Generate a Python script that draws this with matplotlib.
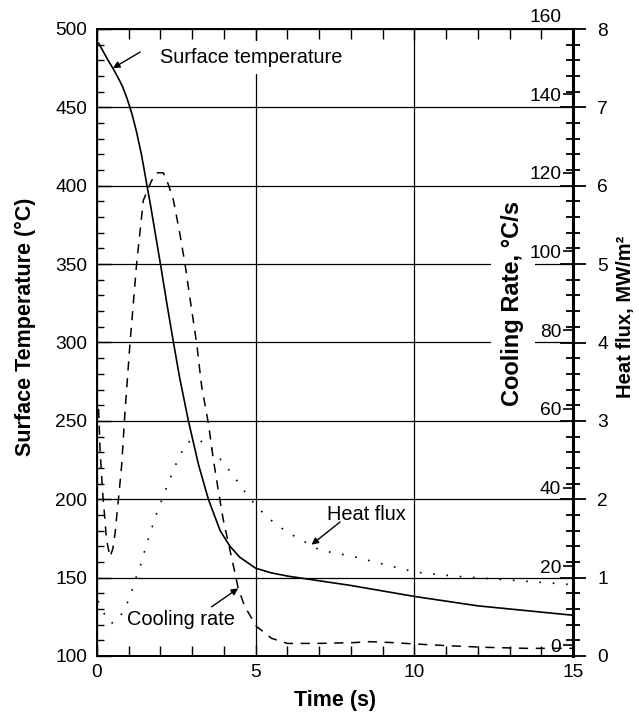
import numpy as np
import matplotlib
matplotlib.use("Agg")
import matplotlib.pyplot as plt
from matplotlib.ticker import MultipleLocator

plt.rcParams['font.family'] = ['Liberation Sans', 'DejaVu Sans']

# surface temperature, degC
t_temp = [0.05, 0.2, 0.35, 0.5, 0.65, 0.8, 0.95, 1.1, 1.25, 1.4, 1.55, 1.7,
          1.85, 2.0, 2.2, 2.41, 2.6, 2.88, 3.2, 3.51, 3.88, 4.19, 4.5, 5.0,
          5.5, 6.0, 7.0, 8.0, 9.0, 10.0, 11.0, 12.0, 13.0, 14.0, 15.0]
temp = [491, 485.5, 480, 475, 469.5, 463.5, 455.5, 446, 434, 420, 403, 386,
        368, 350, 325, 300, 278, 250, 222, 200, 180, 170, 163, 156,
        153, 151, 148, 145, 141.5, 138, 135, 132, 130, 128, 126]

# cooling rate, degC/s
t_rate = [0.05, 0.1, 0.18, 0.25, 0.3, 0.41, 0.5, 0.57, 0.62, 0.7, 0.78, 0.88,
          1.04, 1.25, 1.46, 1.72, 1.88, 2.09, 2.25, 2.41, 2.6, 2.77, 2.95, 3.14,
          3.3, 3.51, 3.67, 3.82, 3.98, 4.19, 4.35, 4.45, 4.66, 5.03, 5.5, 6.0,
          7.0, 8.08, 8.6, 9.34, 10.03, 11.24, 12.28, 13.54, 15.0]
rate = [60, 49, 38.6, 31.8, 26.7, 22.4, 24.5, 28.4, 32.6, 39, 46, 59,
        76.7, 97, 113, 118, 120, 120, 117, 113, 105, 97, 87, 76.7,
        65.6, 56.3, 47, 39.4, 31.8, 24.1, 18.2, 14.4, 9.7, 4.7, 1.7, 0.4,
        0.4, 0.6, 0.85, 0.6, 0.25, -0.25, -0.6, -0.85, -0.85]

# heat flux, MW/m2
t_flux = [0.03, 0.15, 0.3, 0.45, 0.62, 0.83, 0.98, 1.09, 1.2, 1.33, 1.58, 1.88,
          2.22, 2.53, 2.82, 3.14, 3.51, 3.79, 4.07, 4.32, 4.56, 4.82, 5.1, 5.43,
          5.75, 6.08, 6.76, 7.03, 8.07, 9.13, 10.03, 11.24, 12.28, 13.3, 15.0]
flux = [0.7, 0.63, 0.46, 0.42, 0.44, 0.57, 0.70, 0.82, 0.97, 1.10, 1.45, 1.82,
        2.18, 2.49, 2.72, 2.77, 2.69, 2.56, 2.42, 2.29, 2.15, 2.01, 1.88, 1.75,
        1.65, 1.56, 1.41, 1.35, 1.27, 1.16, 1.07, 1.02, 0.99, 0.96, 0.91]

W_PX, H_PX = 639, 716
fig = plt.figure(figsize=(W_PX / 100, H_PX / 100), dpi=100)

L = 97 / W_PX
W = (573 - 97) / W_PX
ax = fig.add_axes([L, 1 - 656 / H_PX, W, (656 - 29) / H_PX])

# main axis: surface temperature
ax.plot(t_temp, temp, color='k', lw=1.2)
ax.set_xlim(0, 15)
ax.set_ylim(100, 500)
ax.set_xticks([0, 5, 10, 15])
ax.xaxis.set_minor_locator(MultipleLocator(1))
ax.set_yticks(np.arange(100, 501, 50))
ax.yaxis.set_minor_locator(MultipleLocator(10))
ax.tick_params(which='both', direction='in', top=True, right=False,
               labelsize=13.8, width=1)
ax.tick_params(axis='x', which='major', length=8, pad=6)
ax.tick_params(axis='x', which='minor', length=7)
ax.tick_params(axis='y', which='major', length=10, pad=7)
ax.tick_params(axis='y', which='minor', length=5)
ax.grid(True, which='major', color='k', lw=0.9)
for s in ax.spines.values():
    s.set_linewidth(1.3)

ax.set_xlabel('Time (s)', fontsize=15.5, fontweight='bold', labelpad=6)
fig.text(25 / W_PX, 1 - 327 / H_PX, 'Surface Temperature (°C)', rotation=90,
         ha='center', va='center', fontsize=15.5, fontweight='bold')

ax.text(1.99, 482, 'Surface temperature', fontsize=14.4, ha='left', va='center',
        bbox=dict(boxstyle='square,pad=0.35', fc='white', ec='none'))
ax.annotate('', xy=(0.5, 475), xytext=(1.36, 485.3),
            arrowprops=dict(arrowstyle='-|>', color='k', lw=1,
                            mutation_scale=10, shrinkA=0, shrinkB=0))
ax.text(0.95, 123, 'Cooling rate', fontsize=14.4, ha='left', va='center')

# cooling rate label masks the grid lines behind it
ax.text(513 / W_PX, 1 - 303 / H_PX, 'Cooling Rate, °C/s', rotation=90,
        transform=fig.transFigure, ha='center', va='center', fontsize=17,
        fontweight='bold', clip_on=False, zorder=5,
        bbox=dict(boxstyle='square,pad=0.45', fc='white', ec='none'))

# heat flux axis on the right spine
ax_hf = ax.twinx()
ax_hf.plot(t_flux, flux, color='k', lw=1.2, linestyle=(0, (1, 7)))
ax_hf.set_ylim(0, 8)
ax_hf.set_yticks(np.arange(0, 9, 1))
ax_hf.yaxis.set_minor_locator(MultipleLocator(0.2))
ax_hf.tick_params(axis='y', which='major', direction='inout', length=19,
                  width=1.3, pad=8, labelsize=13.8)
ax_hf.tick_params(axis='y', which='minor', direction='inout', length=10,
                  width=1.3)
for s in ax_hf.spines.values():
    s.set_linewidth(1.3)
ax_hf.spines['right'].set_linewidth(2.2)
ax_hf.text(7.24, 1.81, 'Heat flux', fontsize=14.4, ha='left', va='center')
ax_hf.annotate('', xy=(6.76, 1.42), xytext=(7.66, 1.71),
               arrowprops=dict(arrowstyle='-|>', color='k', lw=1,
                               mutation_scale=10, shrinkA=0, shrinkB=0))
fig.text(625 / W_PX, 1 - 317 / H_PX, 'Heat flux, MW/m²', rotation=90,
         ha='center', va='center', fontsize=14.5, fontweight='bold')

# cooling rate axis, offset from the temperature scale
ax_cr = fig.add_axes([L, 1 - 645 / H_PX, W, (645 - 15.4) / H_PX])
ax_cr.patch.set_visible(False)
for s in ax_cr.spines.values():
    s.set_visible(False)
ax_cr.spines['left'].set_position(('axes', 1.0))
ax_cr.xaxis.set_visible(False)
ax_cr.plot(t_rate, rate, color='k', lw=1.1, dashes=(6, 5), clip_on=False)
ax_cr.set_xlim(0, 15)
ax_cr.set_ylim(0, 160)
ax_cr.set_yticks(np.arange(0, 161, 20))
ax_cr.tick_params(axis='y', direction='out', length=7.5, width=1.2, pad=1,
                  labelsize=13.8)
ax_cr.yaxis.get_major_ticks()[-1].tick1line.set_visible(False)
ax_cr.annotate('', xy=(4.45, 14.4), xytext=(3.61, 9.7),
               arrowprops=dict(arrowstyle='-|>', color='k', lw=1,
                               mutation_scale=10, shrinkA=0, shrinkB=0))

fig.savefig('out.png', dpi=100)
